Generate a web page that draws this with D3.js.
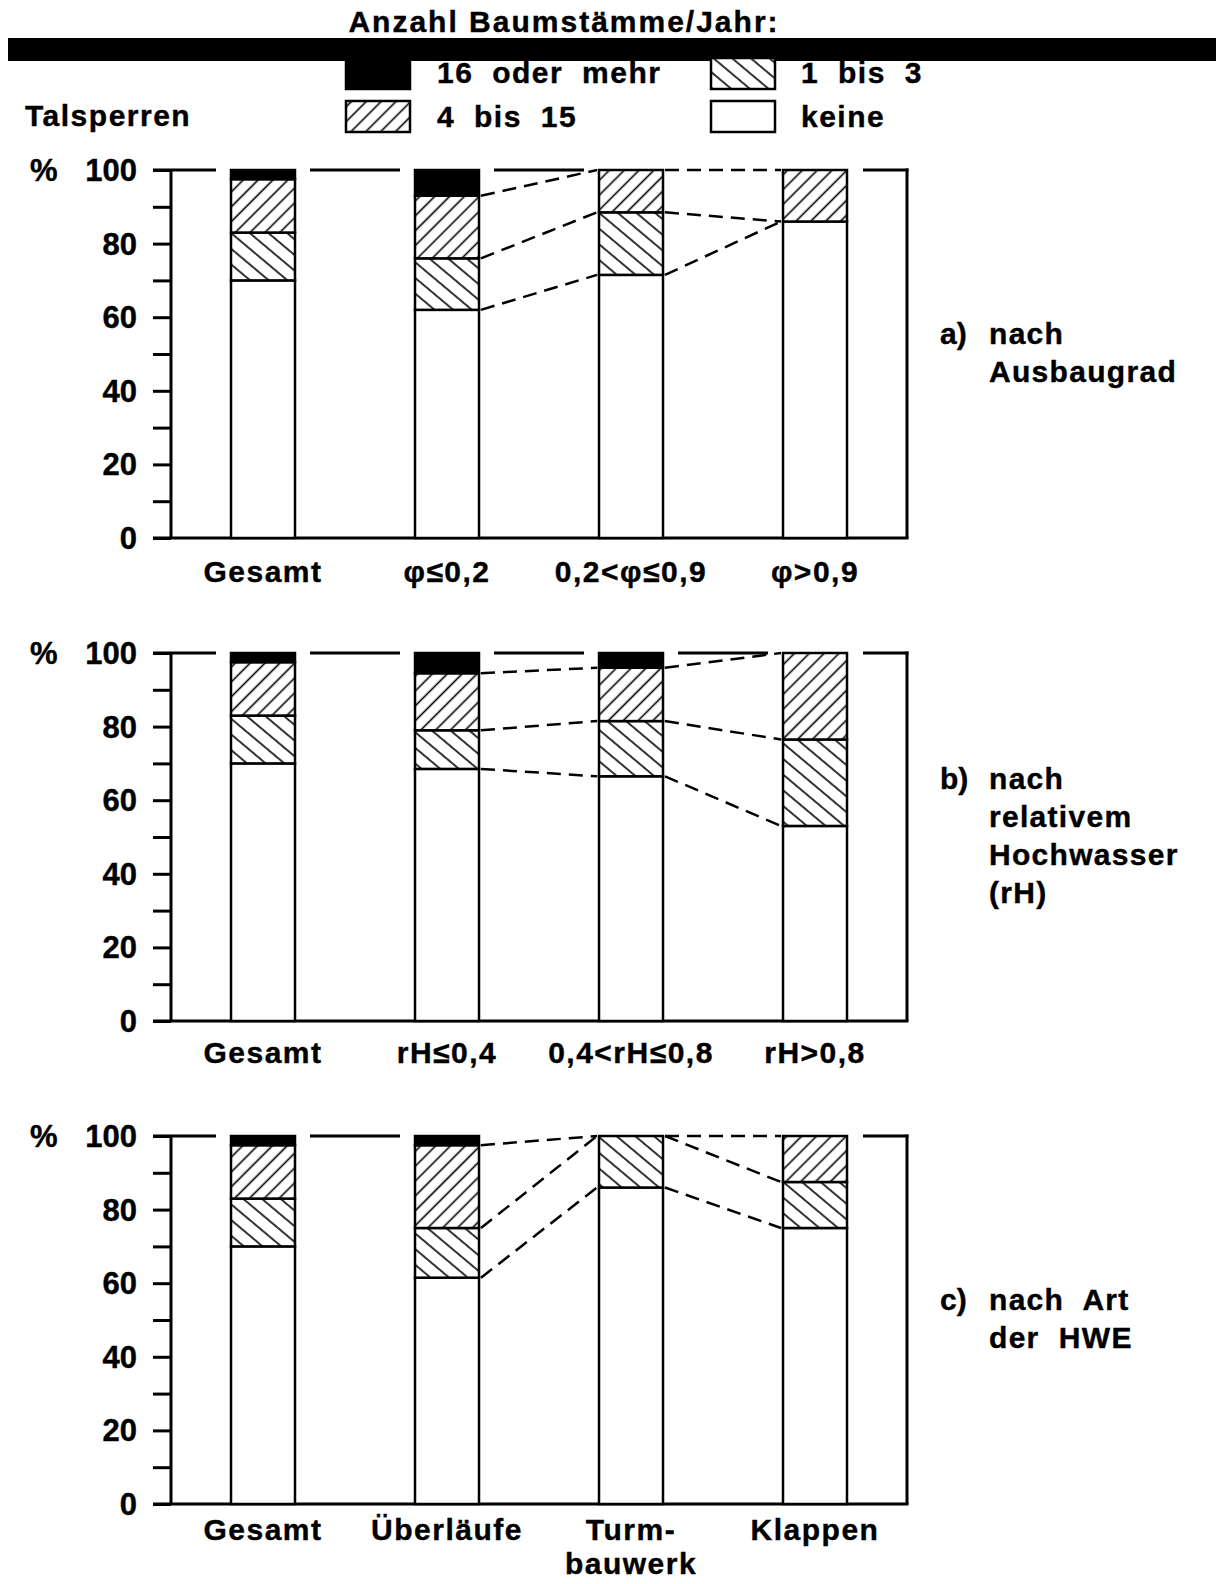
<!DOCTYPE html>
<html><head><meta charset="utf-8">
<script src="https://cdn.jsdelivr.net/npm/d3@7"></script>
<style>
body{margin:0;background:#fff;}
svg text{font-family:"Liberation Sans",Arial,Helvetica,sans-serif;font-weight:bold;fill:#000;stroke:#000;stroke-width:0.4px;}
</style></head>
<body><svg id="chart" width="1216" height="1584"></svg>
<script>
// ---------- data ----------
const seriesKeys = ["keine", "1 bis 3", "4 bis 15", "16 oder mehr"];
const legendTitle = "Anzahl Baumstämme/Jahr:";
const leftTitle = "Talsperren";
const yTicks = [0, 20, 40, 60, 80, 100];

const catsA = [["Gesamt"], ["φ≤0,2"], ["0,2<φ≤0,9"], ["φ>0,9"]];
const keineA = [70, 62, 71.5, 86];
const oneToThreeA = [13, 14, 17, 0];
const fourToFifteenA = [14.5, 17, 11.5, 14];
const sixteenPlusA = [2.5, 7, 0, 0];
const sideA = ["a)", "nach", "Ausbaugrad"];

const catsB = [["Gesamt"], ["rH≤0,4"], ["0,4<rH≤0,8"], ["rH>0,8"]];
const keineB = [70, 68.5, 66.5, 53];
const oneToThreeB = [13, 10.5, 15, 23.5];
const fourToFifteenB = [14.5, 15.5, 14.5, 23.5];
const sixteenPlusB = [2.5, 5.5, 4, 0];
const sideB = ["b)", "nach", "relativem", "Hochwasser", "(rH)"];

const catsC = [["Gesamt"], ["Überläufe"], ["Turm-", "bauwerk"], ["Klappen"]];
const keineC = [70, 61.5, 86, 75];
const oneToThreeC = [13, 13.5, 14, 12.5];
const fourToFifteenC = [14.5, 22.5, 0, 12.5];
const sixteenPlusC = [2.5, 2.5, 0, 0];
const sideC = ["c)", "nach  Art", "der  HWE"];

const panels = [
  {cats: catsA, vals: [keineA, oneToThreeA, fourToFifteenA, sixteenPlusA], side: sideA},
  {cats: catsB, vals: [keineB, oneToThreeB, fourToFifteenB, sixteenPlusB], side: sideB},
  {cats: catsC, vals: [keineC, oneToThreeC, fourToFifteenC, sixteenPlusC], side: sideC}
];

// ---------- drawing ----------
const svg = d3.select("#chart");
const defs = svg.append("defs");
function hatch(id, angle, spacing){
  const p = defs.append("pattern").attr("id", id).attr("patternUnits","userSpaceOnUse")
    .attr("width", spacing).attr("height", spacing)
    .attr("patternTransform", `rotate(${angle})`);
  p.append("rect").attr("width", spacing).attr("height", spacing).attr("fill","#fff");
  p.append("line").attr("x1", spacing/2).attr("x2", spacing/2).attr("y1", -1).attr("y2", spacing+1)
    .attr("stroke","#000").attr("stroke-width",1.6);
}
hatch("hatchBack", -50, 12);   // "\" 1 bis 3
hatch("hatchFwd", 45, 10.5);   // "/" 4 bis 15
const fills = {"keine":"#fff", "1 bis 3":"url(#hatchBack)", "4 bis 15":"url(#hatchFwd)", "16 oder mehr":"#000"};

const LS = "1.5px";
// title + black bar
svg.append("text").attr("x", 564).attr("y", 32).attr("text-anchor","middle")
  .attr("font-size", 30).style("letter-spacing","2px").text(legendTitle);
svg.append("rect").attr("x", 8).attr("y", 38).attr("width", 1208).attr("height", 23).attr("fill","#000");
svg.append("text").attr("x", 25).attr("y", 126).attr("font-size", 30).style("letter-spacing",LS).text(leftTitle);

// legend
const legendItems = [
  {key:"16 oder mehr", x:346, y:58, h:31, tx:437, ty:83},
  {key:"1 bis 3", x:711, y:58, h:31, tx:801, ty:83},
  {key:"4 bis 15", x:346, y:101, h:31, tx:437, ty:127},
  {key:"keine", x:711, y:101, h:31, tx:801, ty:127}
];
const lg = svg.append("g");
legendItems.forEach(d=>{
  lg.append("rect").attr("x", d.x).attr("y", d.y).attr("width", 64).attr("height", d.h)
    .attr("fill", fills[d.key]).attr("stroke","#000").attr("stroke-width",2.5);
  lg.append("text").attr("x", d.tx).attr("y", d.ty).attr("font-size", 30)
    .style("letter-spacing",LS).style("word-spacing","9px").text(d.key);
});

const axisX = 171, frameR = 907, tickX0 = 153, barW = 64;
const labelOffset = [44, 42, 36];
const labelStep = 34;

panels.forEach((pn, i)=>{
  const yTop = 170 + 483*i, yBot = yTop + 368;
  const g = svg.append("g");
  const catKeys = pn.cats.map(c=>c.join(" "));
  const x = d3.scalePoint().domain(catKeys).range([axisX, frameR]).padding(0.5);
  const y = d3.scaleLinear().domain([0,100]).range([yBot, yTop]);

  const rows = catKeys.map((c,j)=>{ const r={cat:c}; seriesKeys.forEach((k,s)=>r[k]=pn.vals[s][j]); return r; });
  const stacked = d3.stack().keys(seriesKeys)(rows);

  // left axis with ticks
  const axis = d3.axisLeft(y).tickValues(d3.range(0,101,10)).tickSize(axisX - tickX0).tickFormat("");
  const ag = g.append("g").attr("transform", `translate(${axisX},0)`).call(axis);
  ag.select(".domain").remove();
  ag.selectAll(".tick line").attr("stroke","#000").attr("stroke-width",3);
  g.append("line").attr("x1",axisX).attr("x2",axisX).attr("y1",y(100)).attr("y2",y(0)).attr("stroke","#000").attr("stroke-width",3);
  g.append("line").attr("x1",frameR).attr("x2",frameR).attr("y1",y(100)-1.5).attr("y2",y(0)).attr("stroke","#000").attr("stroke-width",3);
  g.append("line").attr("x1",tickX0).attr("x2",frameR+1.5).attr("y1",y(0)).attr("y2",y(0)).attr("stroke","#000").attr("stroke-width",3);
  // tick labels
  g.selectAll("text.yl").data(yTicks).enter().append("text").attr("class","yl")
    .attr("x", 137).attr("y", d=>y(d)+11).attr("text-anchor","end").attr("font-size",31).text(d=>d);
  g.append("text").attr("x", 30).attr("y", y(100)+11).attr("font-size",31).text("%");

  // cumulative boundaries
  const cum = catKeys.map((c,j)=>{ let s=0; return pn.vals.slice(0,3).map(v=>{ s+=v[j]; return s; }); });

  // top frame segments (gaps kept around bars)
  const lefts = catKeys.map(c=>x(c)-barW/2), rights = catKeys.map(c=>x(c)+barW/2);
  const segs = [[tickX0, lefts[0]-15]];
  for (let j=0;j<catKeys.length-1;j++){
    const covered = j>=1 && cum[j][2]>=97 && cum[j+1][2]>=97;
    if (!covered) segs.push([rights[j]+15, lefts[j+1]-15]);
  }
  segs.push([rights[catKeys.length-1]+16, frameR+1.5]);
  g.selectAll("line.top").data(segs).enter().append("line").attr("class","top")
    .attr("x1",d=>d[0]).attr("x2",d=>d[1]).attr("y1",y(100)).attr("y2",y(100))
    .attr("stroke","#000").attr("stroke-width",3);

  // connection dashed lines (between sub-category bars)
  const conns = [];
  for (let j=1;j<catKeys.length-1;j++) for (let k=0;k<3;k++)
    conns.push({x1:rights[j], y1:cum[j][k], x2:lefts[j+1], y2:cum[j+1][k]});
  g.selectAll("line.conn").data(conns).enter().append("line").attr("class","conn")
    .attr("x1",d=>d.x1+2).attr("x2",d=>d.x2-2).attr("y1",d=>y(d.y1)).attr("y2",d=>y(d.y2))
    .attr("stroke","#000").attr("stroke-width",2.5).attr("stroke-dasharray","14,8");

  // bars
  stacked.forEach(layer=>{
    g.selectAll(null).data(layer.filter(d=>d[1]-d[0]>0)).enter().append("rect")
      .attr("x", d=>x(d.data.cat)-barW/2).attr("width", barW)
      .attr("y", d=>y(d[1])).attr("height", d=>y(d[0])-y(d[1]))
      .attr("fill", fills[layer.key]).attr("stroke","#000").attr("stroke-width",2.5);
  });

  // category labels
  pn.cats.forEach((lines,j)=>{
    lines.forEach((t,l)=>{
      g.append("text").attr("x", x(catKeys[j])).attr("y", yBot + labelOffset[i] + l*labelStep)
        .attr("text-anchor","middle").attr("font-size",30).style("letter-spacing",LS).text(t);
    });
  });

  // side label
  const lines = pn.side.slice(1);
  const mid = (yTop+yBot)/2 + 9;
  const first = mid - (lines.length-1)*38/2;
  g.append("text").attr("x",940).attr("y",first).attr("font-size",30).text(pn.side[0]);
  lines.forEach((t,l)=>{
    g.append("text").attr("x",989).attr("y",first + l*38).attr("font-size",30)
      .style("letter-spacing","1.3px").style("white-space","pre").text(t);
  });
});
</script>
</body></html>
